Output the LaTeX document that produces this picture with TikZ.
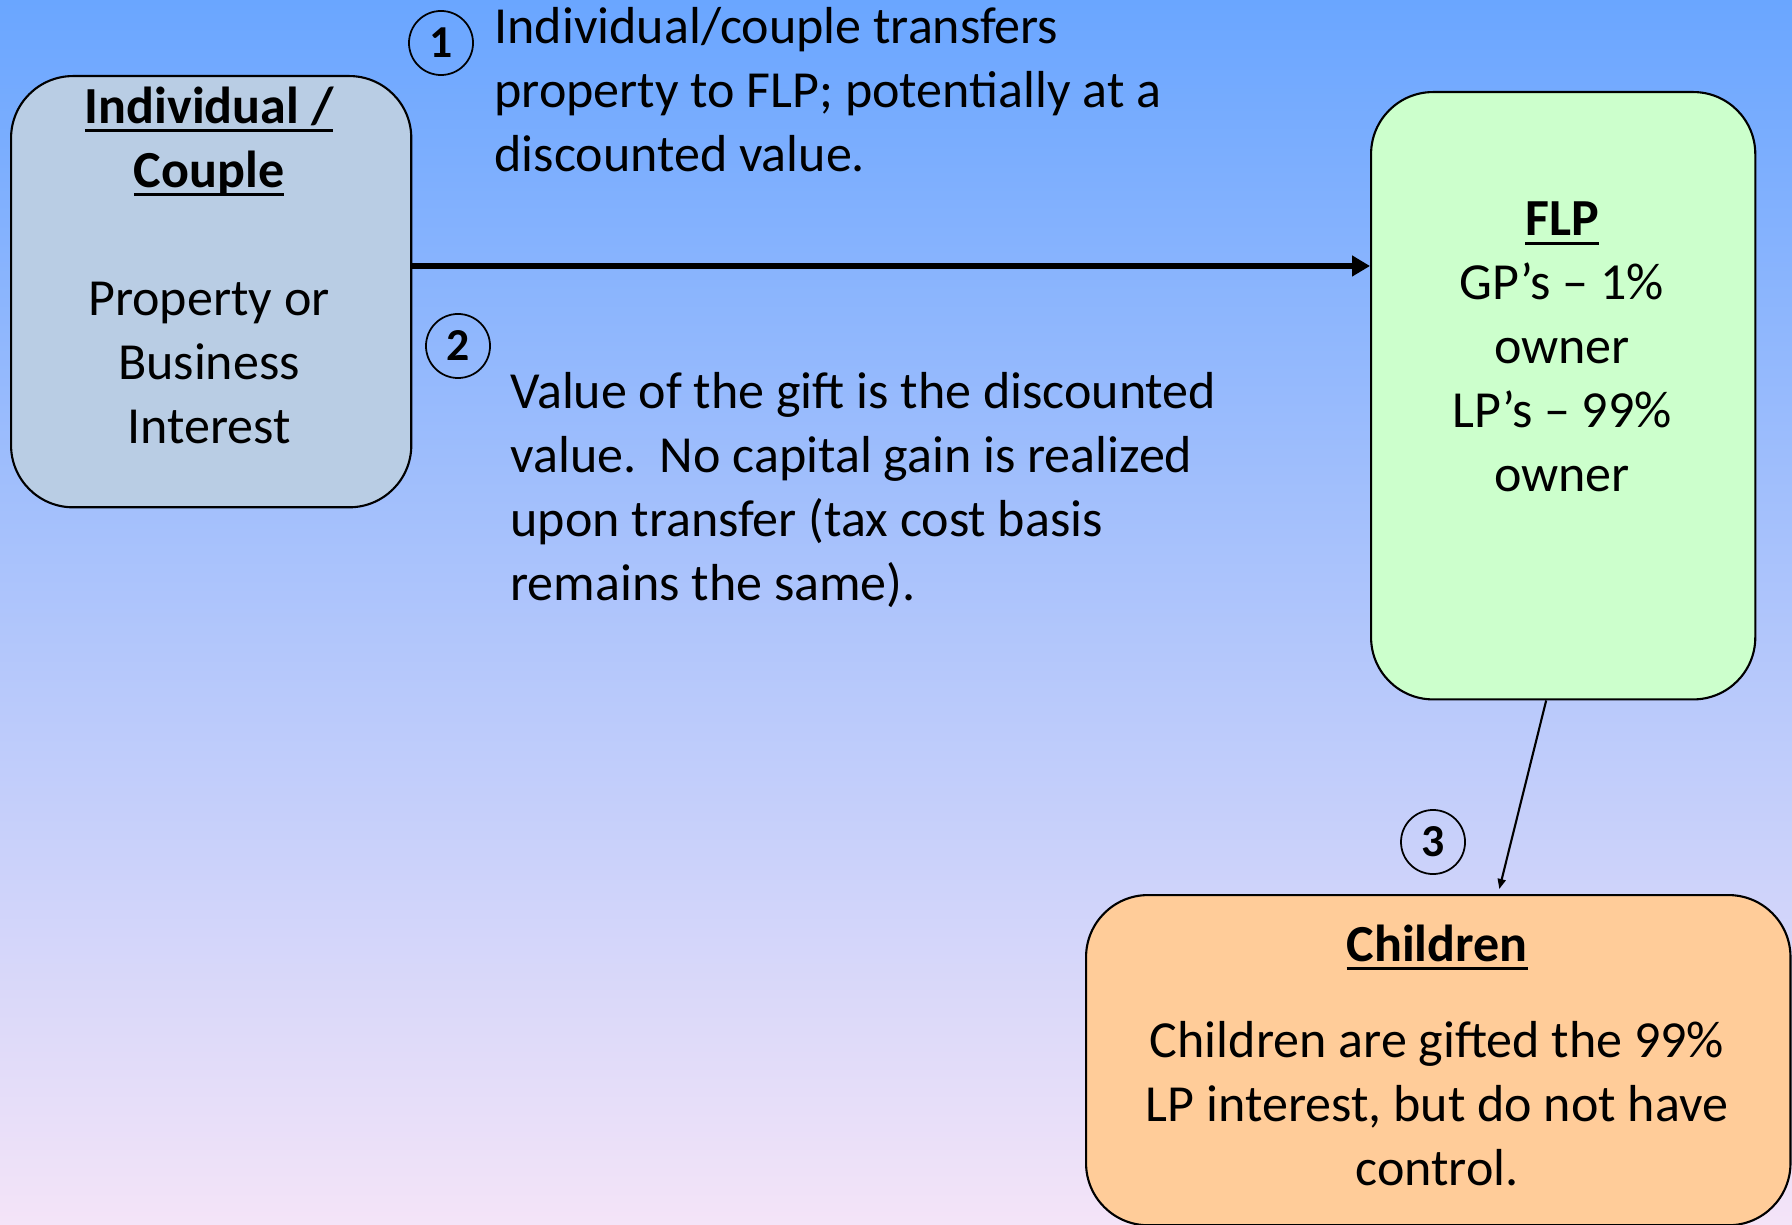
\documentclass[tikz,border=0pt]{standalone}
\usepackage{fontspec}
\setmainfont{Carlito}
\usetikzlibrary{shapes,arrows.meta,positioning}

\definecolor{skytop}{RGB}{106,166,255}
\definecolor{skymid}{RGB}{162,198,246}
\definecolor{skybot}{RGB}{244,228,248}
\definecolor{ownerfill}{RGB}{185,205,228}
\definecolor{flpfill}{RGB}{204,255,204}
\definecolor{kidsfill}{RGB}{255,204,153}

% bold heading with a rule under the baseline
\newcommand\headline[1]{\setbox0\hbox{\bfseries #1}\rlap{\raisebox{-2.6pt}{\rule{\wd0}{0.85pt}}}\box0}

\tikzset{
  box/.style={draw=black, line width=0.6pt, rounded corners=0.62cm, anchor=north west, inner sep=0pt},
  boxtext/.style={align=center, font=\fontsize{14.8}{18.2}\selectfont},
  note/.style={align=left, anchor=west, font=\fontsize{14.8}{18.2}\selectfont},
  stepmark/.style={circle, draw=black, line width=0.5pt, minimum size=0.64cm, inner sep=0pt,
    font=\fontsize{13}{15}\selectfont\bfseries},
}

\begin{document}
\begin{tikzpicture}[x=0.01cm,y=-0.01cm]

\useasboundingbox (0,0) rectangle (1792,1225);
\fill[top color=skytop, middle color=skymid, bottom color=skybot] (0,0) rectangle (1792,1225);

% the three boxes
\node[box, fill=ownerfill, minimum width=4.0cm, minimum height=4.31cm] (owner) at (10,75) {};
\node[box, fill=flpfill, minimum width=3.84cm, minimum height=6.07cm] (flp) at (1370,91) {};
\node[box, fill=kidsfill, minimum width=7.04cm, minimum height=3.3cm] (kids) at (1085,894) {};

\node[boxtext] (ownertxt) at (209,265) {\headline{Individual /}\\\headline{Couple}\\[18.2pt]Property or\\Business\\Interest};
\node[boxtext] (flptxt) at (1562,347) {\headline{FLP}\\GP’s – 1\%\\owner\\LP’s – 99\%\\owner};
\node[boxtext] (kidstxt) at (1437,1055) {\headline{Children}\\[9.1pt]Children are gifted the 99\%\\LP interest, but do not have\\control.};

% steps
\node[stepmark] (s1) at (441,43) {1};
\node[stepmark] (s2) at (458,346) {2};
\node[stepmark] (s3) at (1433,842) {3};

\node[note] (n1) at (482,90) {Individual/couple transfers\\property to FLP; potentially at a\\discounted value.};
\node[note] (n2) at (498,490) {Value of the gift is the discounted\\value.\ \ No capital gain is realized\\upon transfer (tax cost basis\\remains the same).};

% connectors
\coordinate (lane) at (0,266);
\draw[line width=1.6pt, -{Triangle[length=0.18cm,width=0.2cm]}] (owner.east |- lane) -- (flp.west |- lane);
\draw[line width=0.6pt, -{Triangle[length=0.1cm,width=0.08cm]}] ([xshift=-0.17cm]flp.south) -- ([xshift=0.61cm,yshift=0.05cm]kids.north);

\end{tikzpicture}
\end{document}
